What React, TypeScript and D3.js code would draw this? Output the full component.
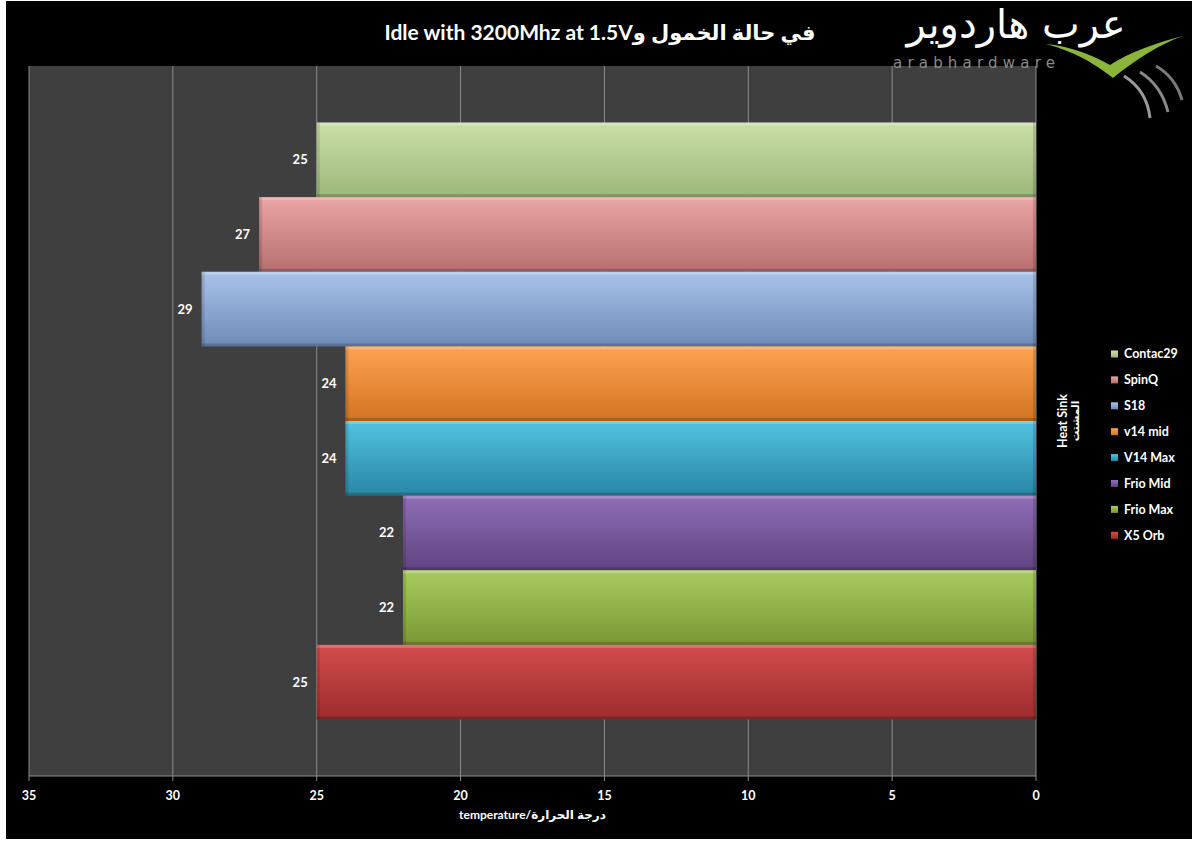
import React from "react";
import * as d3 from "d3";

const seriesNames = ["Contac29", "SpinQ", "S18", "v14 mid", "V14 Max", "Frio Mid", "Frio Max", "X5 Orb"];
const seriesValues = [25, 27, 29, 24, 24, 22, 22, 25];
const topColors = ["#cbe0a8", "#e9a5a4", "#a9c3ea", "#fca352", "#52c3df", "#906eb8", "#a9cc5c", "#d34c4c"];
const bottomColors = ["#9cb679", "#b66f6e", "#6d8bb8", "#d47321", "#2887a4", "#5f4380", "#799736", "#9c2c2c"];
const xTicks = [35, 30, 25, 20, 15, 10, 5, 0];
const categories = ["Idle"];

const FONT = "Lato, 'DejaVu Sans', sans-serif";

export default function App() {
  const W = 1200, H = 848;
  const plot = { left: 29, right: 1036, top: 66, bottom: 776 };
  const x = d3.scaleLinear().domain([0, 35]).range([plot.right, plot.left]);
  const cat = d3.scaleBand().domain(categories).range([plot.top, plot.bottom]).padding(0.0865);
  const y = d3.scaleBand().domain(seriesNames).range([cat("Idle")!, cat("Idle")! + cat.bandwidth()]).padding(0);
  const bh = y.bandwidth();

  return (
    <svg width={W} height={H} style={{ position: "absolute", left: 0, top: 0, display: "block" }} fontFamily={FONT}>
      <defs>
        {seriesNames.map((s, i) => (
          <linearGradient key={s} id={`g${i}`} x1="0" y1="0" x2="0" y2="1">
            <stop offset="0" stopColor={topColors[i]} />
            <stop offset="1" stopColor={bottomColors[i]} />
          </linearGradient>
        ))}
      </defs>
      <rect x={0} y={0} width={W} height={H} fill="#ffffff" />
      <rect x={6} y={1} width={1186} height={838} fill="#000000" />
      {/* plot area */}
      <rect x={plot.left} y={plot.top} width={plot.right - plot.left} height={plot.bottom - plot.top} fill="#3f3f3f" />
      {/* gridlines */}
      {xTicks.map((t) => (
        <line key={t} x1={x(t)} x2={x(t)} y1={plot.top} y2={plot.bottom} stroke="#8c8c8c" strokeWidth={1} />
      ))}
      <line x1={plot.left} x2={plot.right} y1={plot.bottom} y2={plot.bottom} stroke="#8c8c8c" strokeWidth={1} />
      {xTicks.map((t) => (
        <line key={"tk" + t} x1={x(t)} x2={x(t)} y1={plot.bottom} y2={plot.bottom + 5} stroke="#8c8c8c" />
      ))}
      {/* bars */}
      {seriesNames.map((s, i) => {
        const x0 = x(seriesValues[i]);
        const x1 = x(0);
        const y0 = y(s)!;
        return (
          <g key={s}>
            <rect x={x0} y={y0} width={x1 - x0} height={bh} fill={`url(#g${i})`} />
            <rect x={x0} y={y0} width={x1 - x0} height={3} fill="#ffffff" opacity={0.22} />
            <rect x={x0} y={y0 + bh - 3} width={x1 - x0} height={3} fill="#000000" opacity={0.18} />
            <rect x={x0} y={y0} width={3} height={bh} fill="#000000" opacity={0.12} />
            <rect x={x1 - 3} y={y0} width={3} height={bh} fill="#000000" opacity={0.15} />
            <text x={x0 - 9} y={y0 + bh / 2} dy="0.35em" textAnchor="end" fill="#ffffff" fontSize={13} fontWeight="bold">
              {seriesValues[i]}
            </text>
          </g>
        );
      })}
      {/* tick labels */}
      {xTicks.map((t) => (
        <text key={"l" + t} x={x(t)} y={796} dy="0.35em" textAnchor="middle" fill="#ffffff" fontSize={12.5} fontWeight="bold">
          {t}
        </text>
      ))}
      <text x={(plot.left + plot.right) / 2} y={815} dy="0.35em" textAnchor="middle" fill="#ffffff" fontSize={12} fontWeight="bold">
        {"temperature/درجة الحرارة"}
      </text>
      {/* title */}
      <text x={600} y={33} dy="0.35em" textAnchor="middle" fill="#ffffff" fontSize={21} fontWeight="bold">
        {"Idle with 3200Mhz at 1.5Vفي حالة الخمول و"}
      </text>
      {/* legend title */}
      <g transform="translate(1063,421) rotate(-90)">
        <text x={0} y={0} dy="0.35em" textAnchor="middle" fill="#ffffff" fontSize={12.5} fontWeight="bold">Heat Sink</text>
        <text x={0} y={12} dy="0.35em" textAnchor="middle" fill="#ffffff" fontSize={10.5} fontWeight="bold">المشتت</text>
      </g>
      {/* legend */}
      {seriesNames.map((s, i) => {
        const ly = 354 + i * 25.9;
        return (
          <g key={"lg" + s}>
            <rect x={1111} y={ly - 3.5} width={7} height={7} fill={`url(#g${i})`} />
            <text x={1124} y={ly} dy="0.35em" fill="#ffffff" fontSize={12.5} fontWeight="bold">{s}</text>
          </g>
        );
      })}
      {/* logo */}
      <g>
        <text x={1016} y={38} textAnchor="middle" fill="#ffffff" fontSize={40} fontFamily="'DejaVu Sans', sans-serif">
          عرب هاردوير
        </text>
        <text x={893} y={68} fill="#8a8a8a" fontSize={15} letterSpacing={5.2} fontFamily="'DejaVu Sans', sans-serif">
          arabhardware
        </text>
        <path d="M1046,44 C1075,52 1092,62 1113,78 C1135,60 1160,44 1183,36 C1158,42 1130,52 1110,65 C1092,55 1070,46 1046,44 Z" fill="#8ab43a" />
        <path d="M1124,76 C1140,86 1148,100 1150,118" stroke="#9a9a9a" strokeWidth={3} fill="none" />
        <path d="M1140,72 C1156,82 1164,96 1168,112" stroke="#8a8a8a" strokeWidth={3} fill="none" />
        <path d="M1156,66 C1170,74 1178,86 1182,100" stroke="#7a7a7a" strokeWidth={3} fill="none" />
      </g>
    </svg>
  );
}
